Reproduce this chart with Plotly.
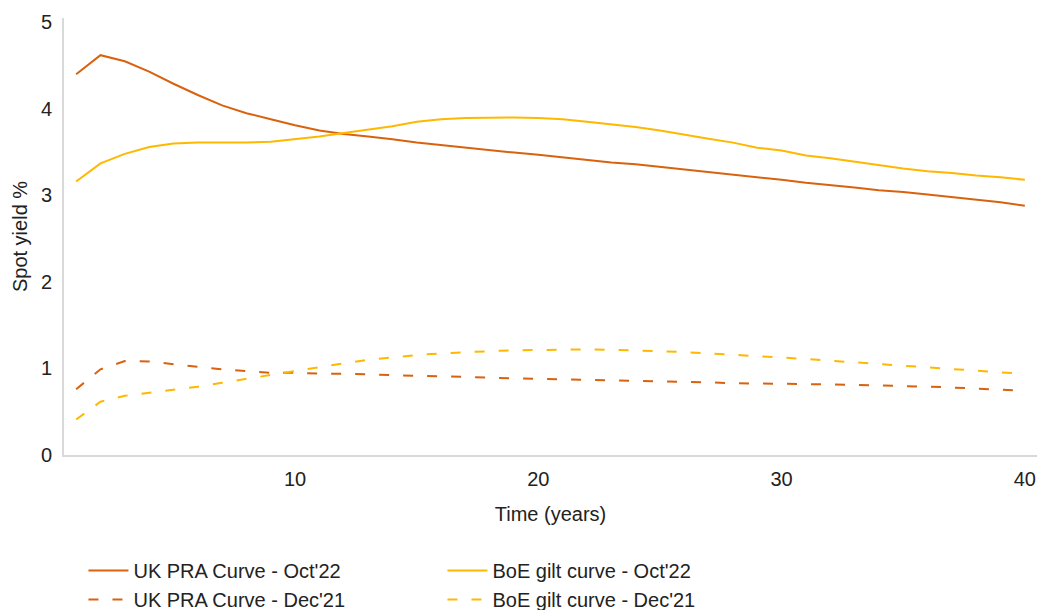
import plotly.graph_objects as go

years = list(range(1, 41))

uk_pra_oct22 = [4.40, 4.62, 4.55, 4.43, 4.29, 4.16, 4.04, 3.95, 3.88, 3.81,
                3.75, 3.71, 3.68, 3.65, 3.61, 3.58, 3.55, 3.52, 3.495, 3.47,
                3.44, 3.41, 3.38, 3.36, 3.33, 3.30, 3.275, 3.24, 3.21, 3.18,
                3.145, 3.12, 3.09, 3.06, 3.04, 3.01, 2.98, 2.95, 2.92, 2.88]

boe_oct22 = [3.16, 3.37, 3.48, 3.56, 3.60, 3.61, 3.61, 3.61, 3.62, 3.65,
             3.68, 3.72, 3.76, 3.80, 3.85, 3.88, 3.895, 3.90, 3.90, 3.895,
             3.88, 3.85, 3.82, 3.79, 3.75, 3.70, 3.655, 3.61, 3.55, 3.52,
             3.46, 3.43, 3.39, 3.35, 3.31, 3.28, 3.26, 3.23, 3.21, 3.18]

uk_pra_dec21 = [0.76, 0.99, 1.085, 1.08, 1.05, 1.02, 0.99, 0.97, 0.95, 0.95,
                0.94, 0.94, 0.93, 0.92, 0.915, 0.91, 0.90, 0.89, 0.885, 0.88,
                0.875, 0.866, 0.86, 0.86, 0.85, 0.846, 0.84, 0.83, 0.828, 0.823,
                0.82, 0.816, 0.81, 0.805, 0.80, 0.79, 0.78, 0.77, 0.755, 0.74]

boe_dec21 = [0.41, 0.615, 0.685, 0.72, 0.75, 0.79, 0.835, 0.88, 0.93, 0.97,
             1.02, 1.06, 1.10, 1.13, 1.155, 1.175, 1.19, 1.20, 1.21, 1.215,
             1.22, 1.22, 1.215, 1.21, 1.20, 1.19, 1.175, 1.16, 1.147, 1.13,
             1.11, 1.09, 1.07, 1.055, 1.035, 1.01, 0.99, 0.975, 0.955, 0.94]

x_ticks = [10, 20, 30, 40]
y_ticks = [0, 1, 2, 3, 4, 5]

ORANGE = "#D9620F"
YELLOW = "#FFB800"
FONT = "Liberation Sans, Arial, sans-serif"
DASH = "10px,14px"
FS = 20

fig = go.Figure()
fig.add_trace(go.Scatter(x=years, y=uk_pra_oct22, mode="lines", name="UK PRA Curve - Oct'22",
                         line=dict(color=ORANGE, width=2)))
fig.add_trace(go.Scatter(x=years, y=boe_oct22, mode="lines", name="BoE gilt curve - Oct'22",
                         line=dict(color=YELLOW, width=2)))
fig.add_trace(go.Scatter(x=years, y=uk_pra_dec21, mode="lines", name="UK PRA Curve - Dec'21",
                         line=dict(color=ORANGE, width=2, dash=DASH)))
fig.add_trace(go.Scatter(x=years, y=boe_dec21, mode="lines", name="BoE gilt curve - Dec'21",
                         line=dict(color=YELLOW, width=2, dash=DASH)))

fig.update_layout(
    width=1043, height=610,
    margin=dict(l=64, r=6, t=18, b=155),
    paper_bgcolor="white", plot_bgcolor="white",
    font=dict(family=FONT, size=FS, color="#222222"),
    showlegend=True,
    legend=dict(
        orientation="h",
        xref="container", yref="container",
        x=0.08, y=1 - 551 / 610, xanchor="left", yanchor="top",
        entrywidth=304, entrywidthmode="pixels",
        font=dict(family=FONT, size=FS, color="#222222"),
        itemwidth=40,
    ),
    xaxis=dict(
        range=[0.5, 40.5], tickvals=x_ticks, ticktext=[str(v) for v in x_ticks],
        showgrid=False, zeroline=False, showline=True, linecolor="#D9D9D9", linewidth=2,
        ticks="", ticklabelstandoff=5,
        title=dict(text="Time (years)", standoff=18, font=dict(size=FS)),
    ),
    yaxis=dict(
        range=[0, 5.05], tickvals=y_ticks,
        showgrid=False, zeroline=False, showline=True, linecolor="#D9D9D9", linewidth=2,
        ticks="", ticklabelstandoff=6,
        title=dict(text="Spot yield %", standoff=8, font=dict(size=FS)),
    ),
)

fig.write_html("out.html")
